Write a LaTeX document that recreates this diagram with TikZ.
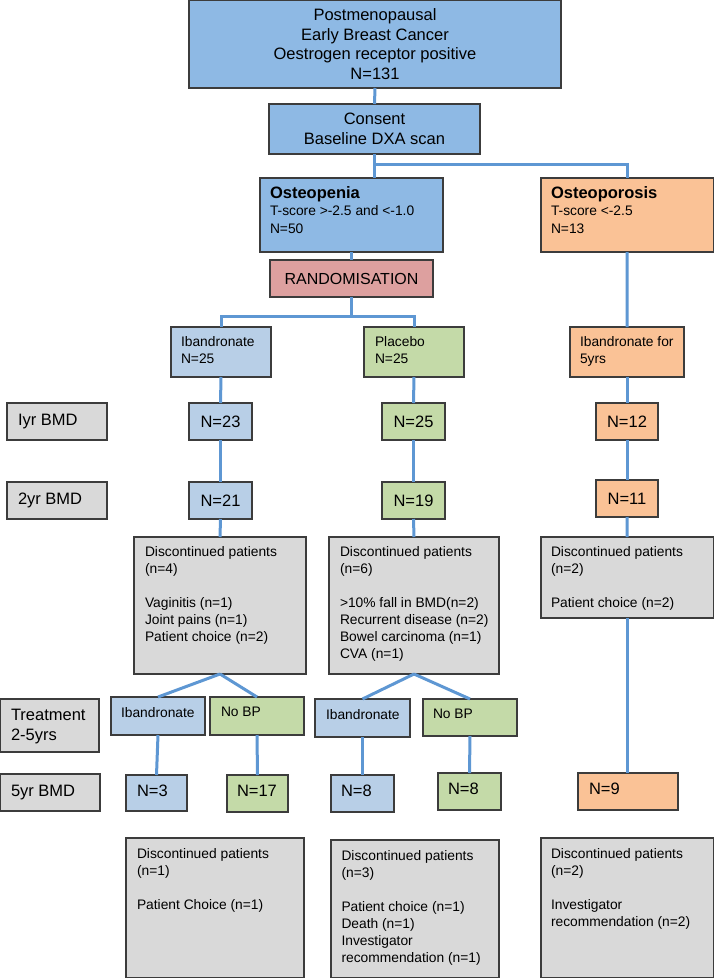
\documentclass[tikz,border=0pt]{standalone}
\usepackage{fontspec}
\setmainfont{Liberation Sans}
\usetikzlibrary{calc}
\definecolor{topblue}{HTML}{8EB9E4}
\definecolor{orng}{HTML}{FAC296}
\definecolor{redd}{HTML}{DDA09F}
\definecolor{lblue}{HTML}{B8CFE7}
\definecolor{grn}{HTML}{C4DAA8}
\definecolor{gry}{HTML}{D9D9D9}
\definecolor{connc}{HTML}{5E97D3}
\definecolor{bordc}{HTML}{3C3C3C}
\tikzset{
  box/.style={draw=bordc, line width=1.2pt, inner sep=0pt, outer sep=0pt, align=center},
  conn/.style={draw=connc, line width=3pt},
  bigf/.style={font=\fontsize{16.5}{19.7}\selectfont},
  smallf/.style={font=\fontsize{13.8}{17}\selectfont},
  headf/.style={font=\fontsize{13.8}{18}\selectfont},
  txt/.style={inner sep=0pt, outer sep=0pt, anchor=north west, align=left},
}
% name, fill, x1, y1, x2, y2, style, text
\newcommand\bx[8]{\node[box, fill=#2, #7, minimum width={(#5-#3)*1pt}, minimum height={(#6-#4)*1pt}] (#1) at ({(#3+#5)/2},{(#4+#6)/2}) {#8};}
% name, style, x, y(top), text
\newcommand\tx[5]{\node[txt, #2] (#1) at (#3,#4) {#5};}
\newcommand\headword[1]{{\fontsize{16.5}{19}\selectfont\bfseries #1}}
\begin{document}
\begin{tikzpicture}[x=1pt, y=-1pt]
\useasboundingbox (0,0) rectangle (714,978);
% boxes
\bx{top}{topblue}{189}{0}{561}{88}{bigf}{Postmenopausal\\Early Breast Cancer\\Oestrogen receptor positive\\N=131}
\bx{consent}{topblue}{269}{104}{480}{154}{bigf}{Consent\\Baseline DXA scan}
\bx{peni}{topblue}{260}{178}{443}{252}{}{}
\bx{poro}{orng}{541}{178}{713.4}{252}{}{}
\bx{rand}{redd}{270}{260}{433}{297}{font=\fontsize{16}{19}\selectfont}{RANDOMISATION}
\bx{iban}{lblue}{171}{327}{271}{377}{}{}
\bx{plac}{grn}{364}{327}{464}{377}{}{}
\bx{ibfive}{orng}{570}{327}{684}{377}{}{}
\bx{lone}{gry}{7}{403}{107}{440}{}{}
\bx{ntwothree}{lblue}{189}{403}{252}{440}{bigf}{N=23}
\bx{ntwofive}{grn}{382}{403}{445}{440}{bigf}{N=25}
\bx{noneTwo}{orng}{596}{403}{658}{440}{bigf}{N=12}
\bx{ltwo}{gry}{7}{482}{107}{519}{}{}
\bx{ntwoone}{lblue}{189}{482}{252}{519}{bigf}{N=21}
\bx{nonenine}{grn}{382}{482}{445}{519}{bigf}{N=19}
\bx{noneone}{orng}{596}{480}{658}{517}{bigf}{N=11}
\bx{done}{gry}{134}{537}{306}{674}{}{}
\bx{dtwo}{gry}{329}{537}{499}{674}{}{}
\bx{dthree}{gry}{541}{537}{713.4}{618}{}{}
\bx{treat}{gry}{0.6}{699}{99}{752}{}{}
\bx{tone}{lblue}{111}{697}{205}{735}{}{}
\bx{ttwo}{grn}{210}{697}{304}{735}{}{}
\bx{tthree}{lblue}{315}{699}{410}{737}{}{}
\bx{tfour}{grn}{423}{699}{517}{736}{}{}
\bx{lfive}{gry}{0.6}{774}{100}{811}{}{}
\bx{fone}{lblue}{126}{775}{187}{811}{}{}
\bx{ftwo}{grn}{227}{775}{288}{812}{}{}
\bx{fthree}{lblue}{331}{775}{394}{812}{}{}
\bx{ffour}{grn}{438}{773}{501}{810}{}{}
\bx{ffive}{orng}{578}{773}{678}{810}{}{}
\bx{bone}{gry}{126}{838}{304}{977.4}{}{}
\bx{btwo}{gry}{331}{840}{499}{977.4}{}{}
\bx{bthree}{gry}{541}{838}{713.4}{977.4}{}{}
% texts
\tx{penit}{headf}{270}{187}{\headword{Osteopenia}\\[-1pt]T-score >-2.5 and <-1.0\\N=50}
\tx{porot}{headf}{551}{187}{\headword{Osteoporosis}\\[-1pt]T-score <-2.5\\N=13}
\tx{ibant}{smallf}{181}{336}{Ibandronate\\N=25}
\tx{plact}{smallf}{375}{336}{Placebo\\N=25}
\tx{ibfivet}{smallf}{580}{336}{Ibandronate for\\5yrs}
\tx{lonet}{bigf}{18}{414}{Iyr BMD}
\tx{ltwot}{bigf}{18}{493}{2yr BMD}
\tx{donet}{smallf}{145}{546}{Discontinued patients\\(n=4)\\[17pt]Vaginitis (n=1)\\Joint pains (n=1)\\Patient choice (n=2)}
\tx{dtwot}{smallf}{340}{546}{Discontinued patients\\(n=6)\\[17pt]>10\% fall in BMD(n=2)\\Recurrent disease (n=2)\\Bowel carcinoma (n=1)\\CVA (n=1)}
\tx{dthreet}{smallf}{551}{546}{Discontinued patients\\(n=2)\\[17pt]Patient choice (n=2)}
\tx{treatt}{bigf}{11}{709}{Treatment\\2-5yrs}
\tx{tonet}{smallf}{121}{707}{Ibandronate}
\tx{ttwot}{smallf}{221}{707}{No BP}
\tx{tthreet}{smallf}{326}{709}{Ibandronate}
\tx{tfourt}{smallf}{433}{709}{No BP}
\tx{lfivet}{bigf}{11}{785}{5yr BMD}
\tx{fonet}{bigf}{137}{785}{N=3}
\tx{ftwot}{bigf}{237}{785}{N=17}
\tx{fthreet}{bigf}{341}{785}{N=8}
\tx{ffourt}{bigf}{448}{783}{N=8}
\tx{ffivet}{bigf}{589}{783}{N=9}
\tx{bonet}{smallf}{137}{848}{Discontinued patients\\(n=1)\\[17pt]Patient Choice (n=1)}
\tx{btwot}{smallf}{341.5}{850}{Discontinued patients\\(n=3)\\[17pt]Patient choice (n=1)\\Death (n=1)\\Investigator\\recommendation (n=1)}
\tx{bthreet}{smallf}{551}{848}{Discontinued patients\\(n=2)\\[17pt]Investigator\\recommendation (n=2)}
% connectors
\draw[conn] (top.south) -- (consent.north);
\draw[conn] (consent.south) -- (consent.south |- peni.north);
\coordinate (brA) at ($(consent.south)+(0,10)$);
\draw[conn] (brA) -| (poro.north);
\draw[conn] (peni.south -| rand.north) -- (rand.north);
\coordinate (brB) at ($(rand.south)+(0,19)$);
\draw[conn] (rand.south) -- (brB);
\draw[conn] (iban.north) |- (brB) -| (plac.north);
\draw[conn] (poro.south) -- (ibfive.north);
\draw[conn] (iban.south) -- (ntwothree.north);
\draw[conn] (ntwothree.south) -- (ntwoone.north);
\draw[conn] (ntwoone.south) -- (done.north);
\draw[conn] (plac.south) -- (ntwofive.north);
\draw[conn] (ntwofive.south) -- (nonenine.north);
\draw[conn] (nonenine.south) -- (dtwo.north);
\draw[conn] (ibfive.south) -- (noneTwo.north);
\draw[conn] (noneTwo.south) -- (noneone.north);
\draw[conn] (noneone.south) -- (dthree.north);
\draw[conn] (dthree.south) -- (dthree.south |- ffive.north);
\draw[conn] (done.south) -- (tone.north);
\draw[conn] (done.south) -- (ttwo.north);
\draw[conn] (dtwo.south) -- (tthree.north);
\draw[conn] (dtwo.south) -- (tfour.north);
\draw[conn] (tone.south) -- (fone.north);
\draw[conn] (ttwo.south) -- (ftwo.north);
\draw[conn] (tthree.south) -- (fthree.north);
\draw[conn] (tfour.south) -- (ffour.north);
\end{tikzpicture}
\end{document}
